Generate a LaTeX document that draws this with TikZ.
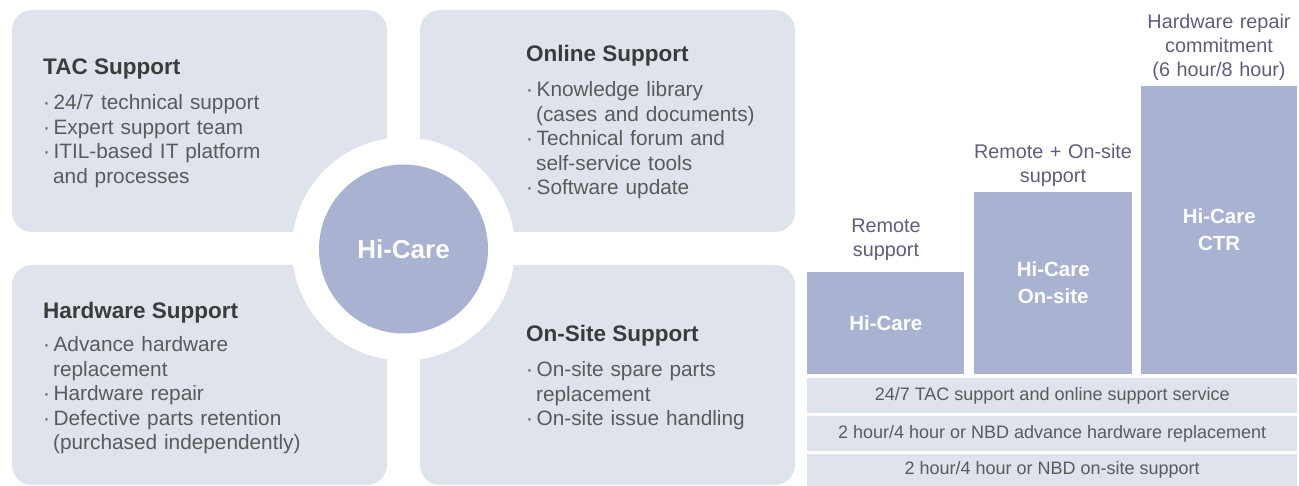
\documentclass[tikz,border=0pt]{standalone}
\usepackage{fontspec}
\setmainfont{Liberation Sans}
\usepackage{tikz}
\definecolor{hcPanel}{HTML}{DFE3EC}
\definecolor{hcBlue}{HTML}{A9B3D1}
\definecolor{hcTitle}{HTML}{3B3B3B}
\definecolor{hcText}{HTML}{5A5A5A}
\definecolor{hcNote}{HTML}{615C77}
\newcommand{\hcdot}{·\hspace{3.5pt}}
\newcommand{\hcindent}{\phantom{·}\hspace{3pt}}
\tikzset{
  panel/.style={fill=hcPanel, rounded corners=20pt},
  paneltitle/.style={font=\fontsize{22.5}{27}\selectfont\bfseries, text=hcTitle, anchor=base west, inner sep=0pt},
  panelbody/.style={font=\fontsize{20.8}{24.4}\selectfont, text=hcText, anchor=base west, inner sep=0pt, text width=330pt, align=left},
  bar/.style={fill=hcBlue, text=white, font=\fontsize{20.5}{27}\selectfont\bfseries, align=center, inner sep=0pt, anchor=south west},
  tierrow/.style={fill=hcPanel, text=hcText, font=\fontsize{18}{21}\selectfont, inner sep=0pt, anchor=north west, minimum width=490pt},
  tiernote/.style={font=\fontsize{19.8}{24}\selectfont, text=hcNote, text width=170pt, align=center, anchor=base, inner sep=0pt}
}

\begin{document}
\begin{tikzpicture}[x=1pt, y=-1pt]
  \useasboundingbox (0,0) rectangle (1299,486);
  % four service panels
  \fill[panel] (12,10) rectangle (387,232);
  \fill[panel] (420,10) rectangle (795,232);
  \fill[panel] (12,265) rectangle (387,485);
  \fill[panel] (420,265) rectangle (795,485);
  \node[circle, fill=white, minimum size=223pt, inner sep=0pt] (ring) at (403.5,249) {};
  \node[circle, fill=hcBlue, minimum size=169pt, inner sep=0pt, text=white, font=\fontsize{26}{30}\selectfont\bfseries] (hub) at (ring.center) {Hi-Care};

  \node[paneltitle] (tacTitle) at (43,75) {TAC Support};
  \node[panelbody] (tacBody) at (43,110) {\hcdot 24/7 technical support\\ \hcdot Expert support team\\ \hcdot ITIL-based IT platform\\ \hcindent and processes};
  \node[paneltitle] (onlineTitle) at (526,62) {Online Support};
  \node[panelbody] (onlineBody) at (526,97) {\hcdot Knowledge library\\ \hcindent (cases and documents)\\ \hcdot Technical forum and\\ \hcindent self-service tools\\ \hcdot Software update};
  \node[paneltitle] (hwTitle) at (43,319) {Hardware Support};
  \node[panelbody] (hwBody) at (43,352) {\hcdot Advance hardware\\ \hcindent replacement\\ \hcdot Hardware repair\\ \hcdot Defective parts retention\\ \hcindent (purchased independently)};
  \node[paneltitle] (siteTitle) at (526,342) {On-Site Support};
  \node[panelbody] (siteBody) at (526,377) {\hcdot On-site spare parts\\ \hcindent replacement\\ \hcdot On-site issue handling};

  % service levels
  \node[bar, minimum width=157pt, minimum height=102pt] (barBase) at (807,374) {Hi-Care};
  \node[bar, minimum width=158pt, minimum height=182pt] (barSite) at (974,374) {Hi-Care\\On-site};
  \node[bar, minimum width=156pt, minimum height=288pt] (barCtr) at (1141,374) {Hi-Care\\CTR};
  \node[tiernote] (noteBase) at (886,233) {Remote\\support};
  \node[tiernote] (noteSite) at (1053,159) {Remote + On-site\\support};
  \node[tiernote] (noteCtr) at (1219,29) {Hardware repair\\commitment\\(6 hour/8 hour)};

  \node[tierrow, minimum height=35pt] (rowTac) at (807,378) {24/7 TAC support and online support service};
  \node[tierrow, minimum height=35pt] (rowHw) at (807,416) {2 hour/4 hour or NBD advance hardware replacement};
  \node[tierrow, minimum height=32pt] (rowSite) at (807,454) {2 hour/4 hour or NBD on-site support};
\end{tikzpicture}
\end{document}
